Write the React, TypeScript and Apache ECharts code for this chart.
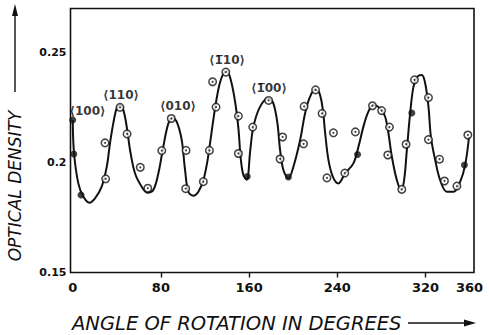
import React, { useEffect, useRef } from "react";
import * as echarts from "echarts";

// Smooth fitted curve (angle in degrees, optical density)
const curveDeg = [0, 1.2, 5.1, 9.6, 15.1, 20.2, 26.3, 30.9, 33.8, 36.8, 39.9, 42.9, 45.9, 49.0, 52.0, 56.5, 62.6, 67.7, 73.1, 77.7, 82.2, 86.8, 90.7, 94.4, 98.9, 101.9, 104.9, 109.4, 114.0, 118.5, 122.1, 125.2, 129.1, 133.0, 136.7, 139.7, 143.4, 147.3, 150.3, 152.4, 154.8, 157.9, 161.0, 163.9, 170.0, 177.5, 182.0, 185.7, 188.1, 191.1, 195.6, 200.2, 206.3, 210.8, 215.3, 219.9, 223.8, 226.9, 229.0, 232.0, 236.0, 241.0, 247.1, 254.6, 259.2, 263.7, 268.2, 272.8, 278.9, 283.4, 286.4, 289.5, 294.0, 297.9, 300.6, 303.1, 306.1, 309.1, 312.7, 316.7, 319.7, 322.7, 324.9, 328.8, 333.3, 339.4, 345.4, 351.5, 356.0, 359.5];
const curveVal = [0.2193, 0.2042, 0.1905, 0.1845, 0.1817, 0.1837, 0.1890, 0.1981, 0.2087, 0.2178, 0.2246, 0.2261, 0.2239, 0.2163, 0.2057, 0.1951, 0.1890, 0.1863, 0.1875, 0.1951, 0.2072, 0.2178, 0.2201, 0.2185, 0.2102, 0.1966, 0.1867, 0.1849, 0.1867, 0.1920, 0.2004, 0.2110, 0.2246, 0.2352, 0.2405, 0.2416, 0.2375, 0.2276, 0.2155, 0.2019, 0.1943, 0.1922, 0.2053, 0.2163, 0.2254, 0.2292, 0.2269, 0.2178, 0.2057, 0.1966, 0.1928, 0.1981, 0.2102, 0.2224, 0.2299, 0.2333, 0.2315, 0.2239, 0.2133, 0.2011, 0.1935, 0.1905, 0.1951, 0.1996, 0.2072, 0.2163, 0.2231, 0.2261, 0.2246, 0.2208, 0.2133, 0.2026, 0.1920, 0.1875, 0.1920, 0.2057, 0.2224, 0.2345, 0.2390, 0.2398, 0.2360, 0.2254, 0.2117, 0.2011, 0.1920, 0.1867, 0.1867, 0.1913, 0.1989, 0.2117];

// Measured points drawn as open circles (⊙)
const openDeg = [29.9, 29.3, 42.9, 49.3, 61.3, 68.1, 80.8, 89.4, 102.8, 102.5, 118.5, 124.0, 130.0, 126.9, 138.9, 150.3, 150.3, 163.3, 177.7, 190.4, 188.1, 209.4, 209.9, 220.3, 226.2, 236.5, 230.6, 246.8, 256.4, 271.9, 280.2, 287.3, 285.8, 298.5, 302.4, 310.0, 322.7, 322.7, 332.7, 337.2, 348.5, 358.4];
const openVal = [0.1926, 0.2089, 0.2251, 0.2130, 0.1978, 0.1883, 0.2054, 0.2200, 0.2055, 0.1881, 0.1913, 0.2055, 0.2252, 0.2367, 0.2411, 0.2211, 0.2041, 0.2161, 0.2282, 0.2116, 0.2016, 0.2085, 0.2255, 0.2330, 0.2223, 0.2135, 0.1930, 0.1952, 0.2139, 0.2258, 0.2236, 0.2161, 0.2034, 0.1878, 0.2083, 0.2376, 0.2295, 0.2104, 0.2015, 0.1916, 0.1893, 0.2125];

// Measured points drawn as filled dots
const filledDeg = [0, 1, 7.5, 158.3, 195.6, 258.4, 307.6, 355.3];
const filledVal = [0.2193, 0.2039, 0.1852, 0.1936, 0.1934, 0.2036, 0.2225, 0.1989];

// Crystal direction labels
const dirLabels = ["\u27E8100\u27E9", "\u27E8110\u27E9", "\u27E8010\u27E9", "\u27E81\u030510\u27E9", "\u27E81\u030500\u27E9"];
const dirDeg = [13.4, 43.8, 95.5, 140, 178];
const dirVal = [0.2234, 0.2307, 0.2257, 0.2466, 0.2339];

const xTicks = [0, 80, 160, 240, 320, 360];
const xTickMarks = [80, 160, 240, 320];
const yTicks = [0.15, 0.2, 0.25];

const zip = (a: number[], b: number[]) => a.map((v, i) => [v, b[i]]);

export default function App() {
  const ref = useRef<HTMLDivElement>(null);
  useEffect(() => {
    if (!ref.current) return;
    const chart = echarts.init(ref.current, null, { renderer: "svg" });
    const font = "DejaVu Sans";
    chart.setOption({
      animation: false,
      backgroundColor: "#ffffff",
      grid: {
        left: 70.5,
        right: 15,
        top: 8.5,
        bottom: 62.5,
        show: true,
        borderColor: "#111",
        borderWidth: 1.6,
        backgroundColor: "transparent",
      },
      xAxis: {
        type: "value",
        min: -2,
        max: 364,
        splitLine: { show: false },
        axisLine: { show: false },
        axisTick: {
          show: true,
          length: 5,
          customValues: xTickMarks,
          lineStyle: { color: "#111", width: 1.4 },
        },
        axisLabel: {
          customValues: xTicks,
          margin: 8,
          color: "#111",
          fontFamily: font,
          fontWeight: "bold",
          fontSize: 13,
          formatter: (v: number) => String(v),
        },
      },
      yAxis: {
        type: "value",
        min: 0.15,
        max: 0.27,
        splitLine: { show: false },
        axisLine: { show: false },
        axisTick: { show: false },
        axisLabel: {
          customValues: yTicks,
          margin: 4,
          color: "#111",
          fontFamily: font,
          fontWeight: "bold",
          fontSize: 11,
          formatter: (v: number) => String(v),
        },
      },
      series: [
        {
          type: "line",
          data: zip(curveDeg, curveVal),
          smooth: 0.35,
          showSymbol: false,
          symbol: "none",
          lineStyle: { color: "#111", width: 2 },
          silent: true,
          z: 2,
        },
        {
          type: "scatter",
          data: zip(openDeg, openVal),
          symbol: "circle",
          symbolSize: 7.5,
          itemStyle: { color: "#fff", borderColor: "#111", borderWidth: 1.5 },
          silent: true,
          z: 3,
        },
        {
          type: "scatter",
          data: zip(openDeg, openVal),
          symbol: "circle",
          symbolSize: 2,
          itemStyle: { color: "#111" },
          silent: true,
          z: 4,
        },
        {
          type: "scatter",
          data: zip(filledDeg, filledVal),
          symbol: "circle",
          symbolSize: 7,
          itemStyle: { color: "#111" },
          silent: true,
          z: 4,
        },
        {
          type: "scatter",
          data: dirDeg.map((d, i) => ({ value: [d, dirVal[i]], name: dirLabels[i] })),
          symbolSize: 1,
          itemStyle: { color: "transparent" },
          label: {
            show: true,
            position: "inside",
            formatter: "{b}",
            color: "#000",
            textBorderWidth: 0,
            textBorderColor: "transparent",
            fontFamily: font,
            fontWeight: "bold",
            fontSize: 12,
          },
          silent: true,
          z: 5,
        },
      ],
      graphic: [
        {
          type: "text",
          x: 15,
          y: 186,
          rotation: Math.PI / 2,
          style: {
            text: "OPTICAL DENSITY",
            font: `italic 17px "${font}"`,
            fill: "#111",
            align: "center",
            verticalAlign: "middle",
          },
        },
        {
          type: "line",
          shape: { x1: 15, y1: 92, x2: 15, y2: 12 },
          style: { stroke: "#111", lineWidth: 1.4 },
        },
        {
          type: "polygon",
          shape: { points: [[15, 4], [12, 16], [18, 16]] },
          style: { fill: "#111" },
        },
        {
          type: "text",
          x: 72,
          y: 323,
          style: {
            text: "ANGLE OF ROTATION IN DEGREES",
            font: `italic 19.5px "${font}"`,
            fill: "#111",
            align: "left",
            verticalAlign: "middle",
          },
        },
        {
          type: "line",
          shape: { x1: 408, y1: 323, x2: 468, y2: 323 },
          style: { stroke: "#111", lineWidth: 1.4 },
        },
        {
          type: "polygon",
          shape: { points: [[476, 323], [464, 319.5], [464, 326.5]] },
          style: { fill: "#111" },
        },
      ],
    });
    return () => chart.dispose();
  }, []);
  return (
    <div
      ref={ref}
      style={{ position: "fixed", left: 0, top: 0, width: 489, height: 335, background: "#fff" }}
    />
  );
}
